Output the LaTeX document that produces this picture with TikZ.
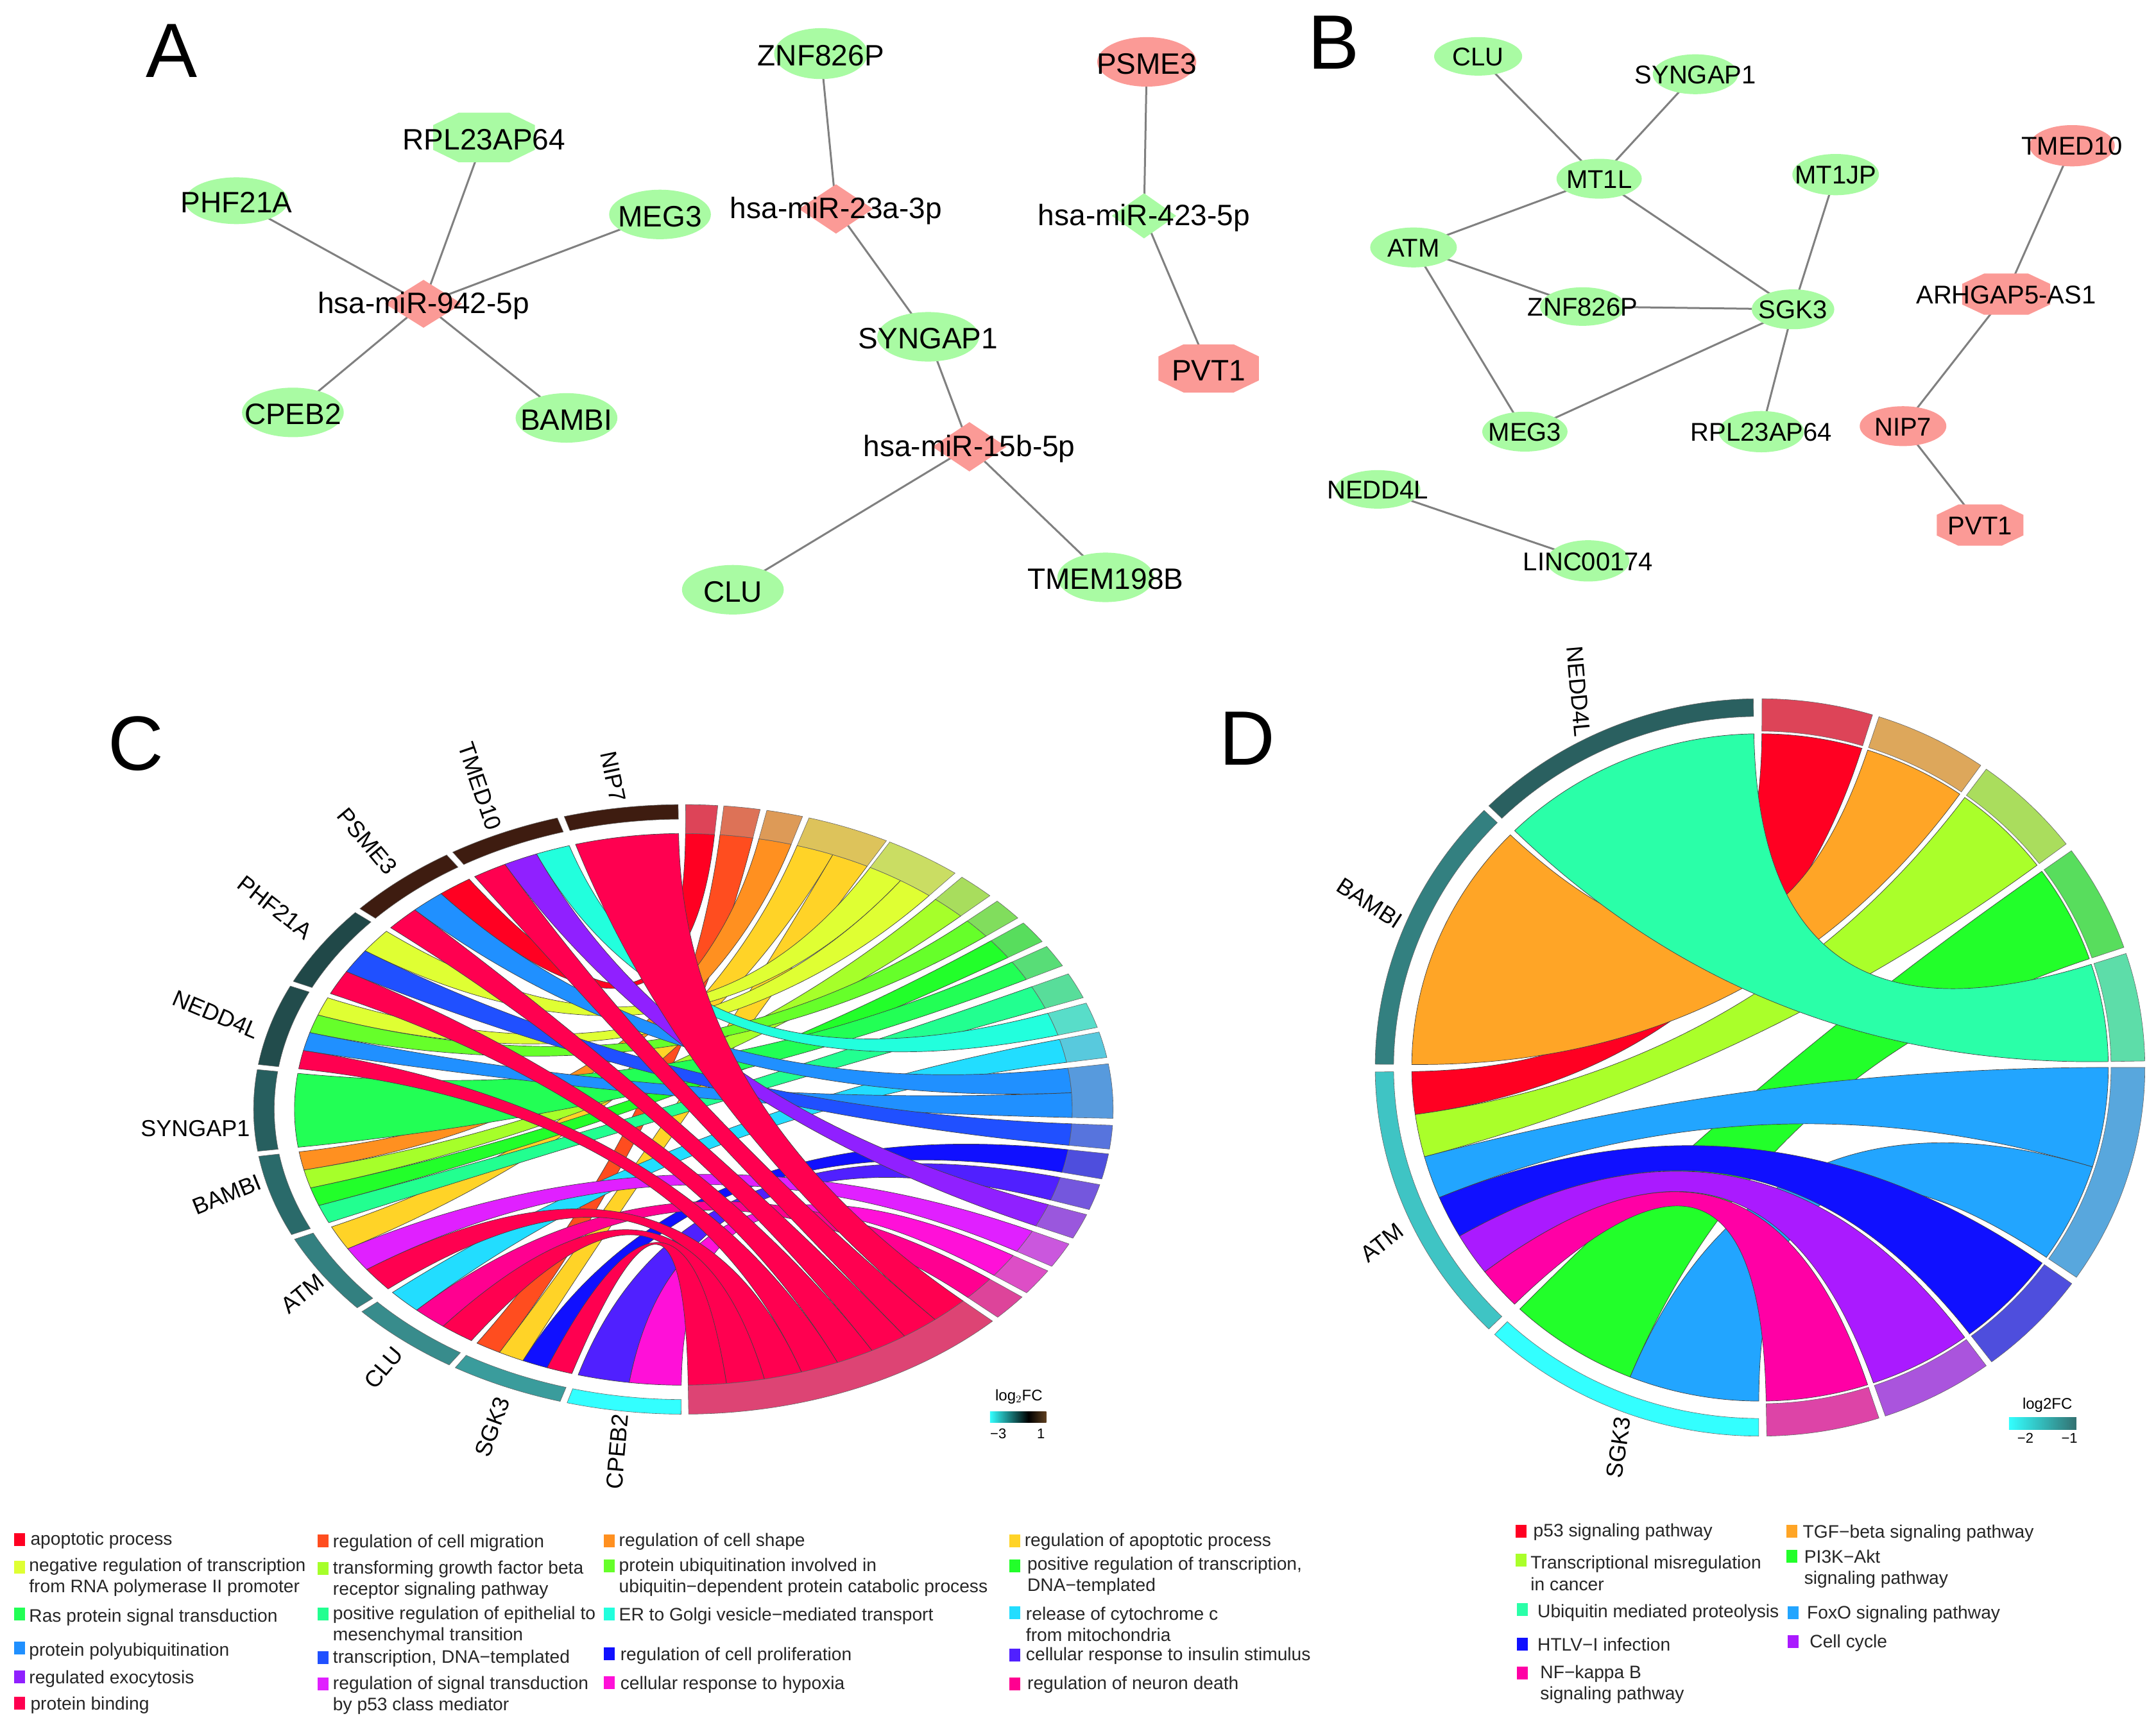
\documentclass[tikz,border=0pt]{standalone}
\usepackage{fontspec}
\setmainfont{Liberation Sans}
\usetikzlibrary{shapes.geometric,backgrounds}
\definecolor{gc}{HTML}{A9FBA3}
\definecolor{rc}{HTML}{FB9A96}
\definecolor{ringg}{HTML}{AAAAAA}
\definecolor{T1}{HTML}{FF0022}\definecolor{T2}{HTML}{FF4D1F}\definecolor{T3}{HTML}{FF9020}
\definecolor{T4}{HTML}{FFD327}\definecolor{T5}{HTML}{DFFF33}\definecolor{T6}{HTML}{A6FF2A}
\definecolor{T7}{HTML}{66FF2A}\definecolor{T8}{HTML}{22FF2A}\definecolor{T9}{HTML}{22FF55}
\definecolor{T10}{HTML}{22FF90}\definecolor{T11}{HTML}{22FFDD}\definecolor{T12}{HTML}{22DDFF}
\definecolor{T13}{HTML}{2090FF}\definecolor{T14}{HTML}{2050FF}\definecolor{T15}{HTML}{1010FF}
\definecolor{T16}{HTML}{5020FF}\definecolor{T17}{HTML}{9020FF}\definecolor{T18}{HTML}{E020FF}
\definecolor{T19}{HTML}{FF10D8}\definecolor{T20}{HTML}{FF0090}\definecolor{T21}{HTML}{FF0050}
\definecolor{D1}{HTML}{FF0022}\definecolor{D2}{HTML}{FFA526}\definecolor{D3}{HTML}{AAFF2A}
\definecolor{D4}{HTML}{22FF2A}\definecolor{D5}{HTML}{2AFFA8}\definecolor{D6}{HTML}{22A5FF}
\definecolor{D7}{HTML}{1010FF}\definecolor{D8}{HTML}{AA1AFF}\definecolor{D9}{HTML}{FF00A5}
\tikzset{
  rib/.style={draw=black!75,line width=.35pt},
  edge/.style={draw=black!50,line width=1.5pt},
  labA/.style={font=\fontsize{23}{23}\selectfont,inner sep=0pt,yshift=-1.5pt},
  labB/.style={font=\fontsize{20}{20}\selectfont,inner sep=0pt,yshift=-.5pt},
  gname/.style={font=\fontsize{18}{18}\selectfont,inner sep=0pt},
  panel/.style={font=\fontsize{60}{60}\selectfont,inner sep=0pt},
  legt/.style={font=\fontsize{14.1}{16.6}\selectfont,anchor=west,align=left,inner sep=0pt,text=black!85,yshift=-1.5pt},
  tick/.style={font=\fontsize{11}{11}\selectfont,inner sep=0pt},
  ell/.style={ellipse,inner sep=0pt},
  dia/.style={diamond,inner sep=0pt}
}
% name x y w h shape fill labelstyle text
\newcommand\nd[9]{\node[#6,fill=#7,minimum width=#4*1.0714pt,minimum height=#5*1.0714pt,label={[#8]center:#9}] (#1) at (#2,#3) {};}
% octagon: name x y w h fill labelstyle text
\newcommand\oc[8]{\fill[#6] ({#2+.25*#4},{#3-.5*#5}) -- ({#2+.5*#4},{#3-.25*#5}) -- ({#2+.5*#4},{#3+.25*#5}) -- ({#2+.25*#4},{#3+.5*#5})
  -- ({#2-.25*#4},{#3+.5*#5}) -- ({#2-.5*#4},{#3+.25*#5}) -- ({#2-.5*#4},{#3-.25*#5}) -- ({#2-.25*#4},{#3-.5*#5}) -- cycle;
  \node[inner sep=0pt,minimum width=#4*1.0714pt,minimum height=#5*1.0714pt,label={[#7]center:#8}] (#1) at (#2,#3) {};}
% base ribbon: colour, gene a1 a2, term b1 b2
\newcommand\chd[5]{\draw[rib,fill=#1]
  ({sin(#5)*\RR},{cos(#5)*\RR}) .. controls ({sin(#5)*\RC},{cos(#5)*\RC}) and ({sin(#2)*\RC},{cos(#2)*\RC}) .. ({sin(#2)*\RR},{cos(#2)*\RR})
  arc[start angle={90-#2},end angle={90-#3},radius=\RR]
  .. controls ({sin(#3)*\RC},{cos(#3)*\RC}) and ({sin(#4)*\RC},{cos(#4)*\RC}) .. ({sin(#4)*\RR},{cos(#4)*\RR})
  arc[start angle={90-#4},end angle={90-#5},radius=\RR] -- cycle;}
% ring sector: fill, t1, t2, r in, r out
\newcommand\ring[5]{\draw[draw=black!60,line width=.3pt,fill=#1]
  ({sin(#2)*#5},{cos(#2)*#5}) arc[start angle={90-#2},end angle={90-#3},radius=#5]
  -- ({sin(#3)*#4},{cos(#3)*#4}) arc[start angle={90-#3},end angle={90-#2},radius=#4] -- cycle;}
% panel C band: colour, gene idx, n, k, t1, t2, m, j
\newcommand\cb[8]{\begingroup
  \pgfmathsetmacro\aa{180.3+16.36*#2+15.4*#4/#3}\pgfmathsetmacro\ab{180.3+16.36*#2+15.4*(#4+1)/#3}
  \pgfmathsetmacro\ba{#5+(#6-#5)*#8/#7}\pgfmathsetmacro\bb{#5+(#6-#5)*(#8+1)/#7}
  \chd{#1}{\aa}{\ab}{\ba}{\bb}\endgroup}
% panel D band: colour, g1, g2, n, k, t1, t2, m, j
\newcommand\db[9]{\begingroup
  \pgfmathsetmacro\aa{#2+(#3-#2)*#5/#4}\pgfmathsetmacro\ab{#2+(#3-#2)*(#5+1)/#4}
  \pgfmathsetmacro\ba{#6+(#7-#6)*#9/#8}\pgfmathsetmacro\bb{#6+(#7-#6)*(#9+1)/#8}
  \chd{#1}{\aa}{\ab}{\ba}{\bb}\endgroup}
\newcommand\tr[3]{\ring{#1!60!ringg}{#2}{#3}{\RI}{1}}
\newcount\lgc
\newcommand\lgi[6]{\global\advance\lgc by 1
  \node[fill=#1,minimum width=8.5pt,minimum height=10pt,inner sep=0pt] (ls\the\lgc) at (#2,#3) {};
  \node[legt] (lt\the\lgc) at (#4,#5) {#6};}
\begin{document}
\begin{tikzpicture}[x=1.0714pt,y=-1.0714pt]
\useasboundingbox (0,0) rectangle (1568,1254.4);
\begin{pgfonlayer}{background}\fill[white] (0,0) rectangle (1568,1254.4);\end{pgfonlayer}
% panel letters
\node[panel] (pA) at (125,37) {A};
\node[panel] (pB) at (970,31) {B};
\node[panel] (pC) at (99,541) {C};
\node[panel] (pD) at (907,537) {D};
% network A
\nd{a1}{308}{221}{56}{35}{dia}{rc}{labA}{hsa-miR-942-5p}
\oc{a2}{352}{100}{74}{36}{gc}{labA}{RPL23AP64}
\nd{a3}{172}{146}{75}{34}{ell}{gc}{labA}{PHF21A}
\nd{a4}{480}{156}{74}{36}{ell}{gc}{labA}{MEG3}
\nd{a5}{213}{300}{74}{36}{ell}{gc}{labA}{CPEB2}
\nd{a6}{412}{304}{74}{36}{ell}{gc}{labA}{BAMBI}
\nd{a7}{597}{39}{68}{37}{ell}{gc}{labA}{ZNF826P}
\nd{a8}{608}{152}{54}{36}{dia}{rc}{labA}{hsa-miR-23a-3p}
\nd{a9}{675}{245}{74}{36}{ell}{gc}{labA}{SYNGAP1}
\nd{a10}{705}{325}{54}{36}{dia}{rc}{labA}{hsa-miR-15b-5p}
\nd{a11}{533}{429}{74}{36}{ell}{gc}{labA}{CLU}
\nd{a12}{804}{420}{70}{36}{ell}{gc}{labA}{TMEM198B}
\nd{a13}{834}{45}{72}{36}{ell}{rc}{labA}{PSME3}
\nd{a14}{832}{157}{47}{33}{dia}{gc}{labA}{hsa-miR-423-5p}
\oc{a15}{879}{268}{73}{35}{rc}{labA}{PVT1}
% network B
\nd{b1}{1075}{41}{64}{28}{ell}{gc}{labB}{CLU}
\nd{b2}{1233}{54}{62}{29}{ell}{gc}{labB}{SYNGAP1}
\nd{b3}{1163}{130}{62}{29}{ell}{gc}{labB}{MT1L}
\nd{b4}{1335}{127}{63}{30}{ell}{gc}{labB}{MT1JP}
\nd{b5}{1028}{180}{63}{29}{ell}{gc}{labB}{ATM}
\nd{b6}{1151}{223}{62}{28}{ell}{gc}{labB}{ZNF826P}
\nd{b7}{1304}{225}{60}{29}{ell}{gc}{labB}{SGK3}
\nd{b8}{1109}{314}{62}{29}{ell}{gc}{labB}{MEG3}
\nd{b9}{1281}{314}{62}{30}{ell}{gc}{labB}{RPL23AP64}
\nd{b10}{1002}{356}{62}{28}{ell}{gc}{labB}{NEDD4L}
\nd{b11}{1155}{408}{60}{30}{ell}{gc}{labB}{LINC00174}
\nd{b12}{1507}{106}{62}{30}{ell}{rc}{labB}{TMED10}
\oc{b13}{1459}{214}{64}{30}{rc}{labB}{ARHGAP5-AS1}
\nd{b14}{1384}{310}{63}{29}{ell}{rc}{labB}{NIP7}
\oc{b15}{1440}{382}{63}{30}{rc}{labB}{PVT1}
\begin{pgfonlayer}{background}
\foreach \u/\v in {a1/a2,a1/a3,a1/a4,a1/a5,a1/a6,a7/a8,a8/a9,a9/a10,a10/a11,a10/a12,a13/a14,a14/a15,
 b1/b3,b2/b3,b3/b5,b3/b7,b4/b7,b5/b6,b6/b7,b5/b8,b8/b7,b7/b9,b10/b11,b12/b13,b13/b14,b14/b15}
  \draw[edge] (\u.center) -- (\v.center);
\end{pgfonlayer}
% chord C
\begin{scope}[shift={(497,807)},x=1cm,y=1cm,xscale=11.77,yscale=8.35]
\def\RR{0.905}\def\RC{0.3017}\def\RI{0.905}
\cb{T1}{8}{3}{2}{0.3}{4.6}{1}{0}
\cb{T2}{1}{4}{3}{5.4}{10.3}{1}{0}
\cb{T3}{4}{4}{3}{11.2}{16.1}{1}{0}
\cb{T4}{3}{3}{2}{17}{28.2}{2}{0}
\cb{T4}{1}{4}{2}{17}{28.2}{2}{1}
\cb{T5}{7}{3}{2}{28.7}{39.2}{2}{0}
\cb{T5}{6}{4}{3}{28.7}{39.2}{2}{1}
\cb{T6}{4}{4}{2}{40.4}{45.5}{1}{0}
\cb{T7}{6}{4}{2}{46.9}{51.1}{1}{0}
\cb{T8}{4}{4}{1}{52.3}{56.6}{1}{0}
\cb{T9}{5}{1}{0}{57.7}{61.9}{1}{0}
\cb{T10}{4}{4}{0}{63.6}{68.5}{1}{0}
\cb{T11}{9}{3}{2}{69.6}{74.4}{1}{0}
\cb{T12}{2}{3}{2}{75.3}{80.2}{1}{0}
\cb{T13}{8}{3}{1}{81.4}{91.7}{2}{0}
\cb{T13}{6}{4}{1}{81.4}{91.7}{2}{1}
\cb{T14}{7}{3}{1}{93}{97.5}{1}{0}
\cb{T15}{1}{4}{1}{98.4}{103.2}{1}{0}
\cb{T16}{0}{2}{1}{104.3}{109.2}{1}{0}
\cb{T17}{9}{3}{1}{110.2}{115}{1}{0}
\cb{T18}{3}{3}{1}{116.2}{121}{1}{0}
\cb{T19}{0}{2}{0}{122}{127}{1}{0}
\cb{T20}{2}{3}{1}{128}{133}{1}{0}
\cb{T21}{10}{1}{0}{134}{179.3}{8}{0}
\cb{T21}{9}{3}{0}{134}{179.3}{8}{1}
\cb{T21}{8}{3}{0}{134}{179.3}{8}{2}
\cb{T21}{7}{3}{0}{134}{179.3}{8}{3}
\cb{T21}{6}{4}{0}{134}{179.3}{8}{4}
\cb{T21}{3}{3}{0}{134}{179.3}{8}{5}
\cb{T21}{2}{3}{0}{134}{179.3}{8}{6}
\cb{T21}{1}{4}{0}{134}{179.3}{8}{7}
\tr{T1}{0.3}{4.6}\tr{T2}{5.4}{10.3}\tr{T3}{11.2}{16.1}\tr{T4}{17}{28.2}\tr{T5}{28.7}{39.2}
\tr{T6}{40.4}{45.5}\tr{T7}{46.9}{51.1}\tr{T8}{52.3}{56.6}\tr{T9}{57.7}{61.9}\tr{T10}{63.6}{68.5}
\tr{T11}{69.6}{74.4}\tr{T12}{75.3}{80.2}\tr{T13}{81.4}{91.7}\tr{T14}{93}{97.5}\tr{T15}{98.4}{103.2}
\tr{T16}{104.3}{109.2}\tr{T17}{110.2}{115}\tr{T18}{116.2}{121}\tr{T19}{122}{127}\tr{T20}{128}{133}
\tr{T21}{134}{179.3}
\foreach \i/\c in {0/33FFFF,1/3A9C9C,2/388C8C,3/338080,4/2A6A6A,5/275F5F,6/224C4C,7/204848,8/3E1C10,9/3E1C10,10/3E1C10}{
  \definecolor{gcol}{HTML}{\c}
  \pgfmathsetmacro\sa{180.3+16.36*\i}\pgfmathsetmacro\sb{\sa+15.4}
  \ring{gcol}{\sa}{\sb}{0.952}{1}
}
\end{scope}
% gene labels C
\node[gname,rotate=-78] (cg1) at (446,565) {NIP7};
\node[gname,rotate=-71] (cg2) at (349,572) {TMED10};
\node[gname,rotate=-50] (cg3) at (267,612) {PSME3};
\node[gname,rotate=-38] (cg4) at (200,660) {PHF21A};
\node[gname,rotate=-23] (cg5) at (157,738) {NEDD4L};
\node[gname] (cg6) at (142,821) {SYNGAP1};
\node[gname,rotate=22] (cg7) at (165,869) {BAMBI};
\node[gname,rotate=39] (cg8) at (220,941) {ATM};
\node[gname,rotate=50] (cg9) at (279,995) {CLU};
\node[gname,rotate=70] (cg10) at (358,1038) {SGK3};
\node[gname,rotate=85] (cg11) at (449,1056) {CPEB2};
% colorbar C
\node[tick,font=\fontsize{12}{12}\selectfont] (cbt) at (741,1016) {log$_2$FC};
\shade[left color=cyan!80!white,right color=black] (720,1027) rectangle (748,1035);
\shade[left color=black,right color=black!50!brown] (748,1027) rectangle (761,1035);
\node[tick] (cb1) at (726,1043) {−3};
\node[tick] (cb2) at (757,1043) {1};
% chord D
\begin{scope}[shift={(1280,776.5)},x=1cm,y=1cm,xscale=10.54,yscale=10.10]
\def\RR{0.905}\def\RC{0.3017}\def\RI{0.912}
\db{D1}{224.8}{269.3}{6}{5}{0.3}{17}{1}{0}
\chd{D2}{270.5}{314.2}{18}{35}
\db{D3}{224.8}{269.3}{6}{4}{36}{52.7}{1}{0}
\db{D4}{180.2}{223.6}{2}{1}{54}{71}{1}{0}
\chd{D5}{315.2}{359}{72}{89}
\db{D6}{224.8}{269.3}{6}{3}{90}{124.7}{2}{0}
\db{D6}{180.2}{223.6}{2}{0}{90}{124.7}{2}{1}
\db{D7}{224.8}{269.3}{6}{2}{125.9}{143}{1}{0}
\db{D8}{224.8}{269.3}{6}{1}{144}{161}{1}{0}
\db{D9}{224.8}{269.3}{6}{0}{162}{179}{1}{0}
\tr{D1}{0.3}{17}\tr{D2}{18}{35}\tr{D3}{36}{52.7}\tr{D4}{54}{71}\tr{D5}{72}{89}
\tr{D6}{90}{124.7}\tr{D7}{125.9}{143}\tr{D8}{144}{161}\tr{D9}{162}{179}
\definecolor{gcol}{HTML}{33FFFF}\ring{gcol}{180.2}{223.6}{0.952}{1}
\definecolor{gcol}{HTML}{3FC4C4}\ring{gcol}{224.8}{269.3}{0.952}{1}
\definecolor{gcol}{HTML}{338080}\ring{gcol}{270.5}{314.2}{0.952}{1}
\definecolor{gcol}{HTML}{2A6060}\ring{gcol}{315.2}{359}{0.952}{1}
\end{scope}
\node[gname,rotate=-85] (dg1) at (1148,503) {NEDD4L};
\node[gname,rotate=-33] (dg2) at (996,657) {BAMBI};
\node[gname,rotate=38] (dg3) at (1005,904) {ATM};
\node[gname,rotate=82] (dg4) at (1177,1053) {SGK3};
\node[tick,font=\fontsize{12}{12}\selectfont] (dbt) at (1489,1022) {log2FC};
\shade[left color=cyan!80!white,right color=black!60!cyan!60!gray] (1461,1031) rectangle (1510,1040);
\node[tick] (db1) at (1473,1046) {−2};
\node[tick] (db2) at (1505,1046) {−1};
% legend C
\lgi{T1}{14}{1120}{22}{1119}{apoptotic process}
\lgi{T5}{14}{1140}{21}{1146}{negative regulation of transcription\\from RNA polymerase II promoter}
\lgi{T9}{14}{1174}{21}{1175}{Ras protein signal transduction}
\lgi{T13}{14}{1199}{21}{1200}{protein polyubiquitination}
\lgi{T17}{14}{1220}{21}{1220}{regulated exocytosis}
\lgi{T21}{14}{1239}{22}{1239}{protein binding}
\lgi{T2}{235}{1121}{242}{1121}{regulation of cell migration}
\lgi{T6}{235}{1141}{242}{1148}{transforming growth factor beta\\receptor signaling pathway}
\lgi{T10}{235}{1174}{242}{1181}{positive regulation of epithelial to\\mesenchymal transition}
\lgi{T14}{235}{1206}{242}{1205}{transcription, DNA−templated}
\lgi{T18}{235}{1225}{242}{1232}{regulation of signal transduction\\by p53 class mediator}
\lgi{T3}{443}{1121}{450}{1120}{regulation of cell shape}
\lgi{T7}{443}{1139}{450}{1146}{protein ubiquitination involved in\\ubiquitin−dependent protein catabolic process}
\lgi{T11}{443}{1174}{450}{1174}{ER to Golgi vesicle−mediated transport}
\lgi{T15}{443}{1203}{451}{1203}{regulation of cell proliferation}
\lgi{T19}{443}{1224}{451}{1224}{cellular response to hypoxia}
\lgi{T4}{738}{1121}{745}{1120}{regulation of apoptotic process}
\lgi{T8}{738}{1139}{747}{1145}{positive regulation of transcription,\\DNA−templated}
\lgi{T12}{738}{1173}{746}{1180}{release of cytochrome c\\ from mitochondria}
\lgi{T16}{738}{1204}{746}{1203}{cellular response to insulin stimulus}
\lgi{T20}{738}{1225}{747}{1224}{regulation of neuron death}
% legend D
\lgi{D1}{1106}{1114}{1115}{1113}{p53 signaling pathway}
\lgi{D3}{1106}{1135}{1113}{1143}{Transcriptional misregulation\\ in cancer}
\lgi{D5}{1107}{1171}{1118}{1172}{Ubiquitin mediated proteolysis}
\lgi{D7}{1107}{1196}{1118}{1195}{HTLV−I infection}
\lgi{D9}{1107}{1217}{1120}{1224}{NF−kappa B\\signaling pathway}
\lgi{D2}{1303}{1114}{1311}{1114}{TGF−beta signaling pathway}
\lgi{D4}{1303}{1132}{1312}{1140}{PI3K−Akt\\ signaling pathway}
\lgi{D6}{1304}{1173}{1314}{1173}{FoxO signaling pathway}
\lgi{D8}{1304}{1194}{1316}{1194}{Cell cycle}
\end{tikzpicture}
\end{document}
